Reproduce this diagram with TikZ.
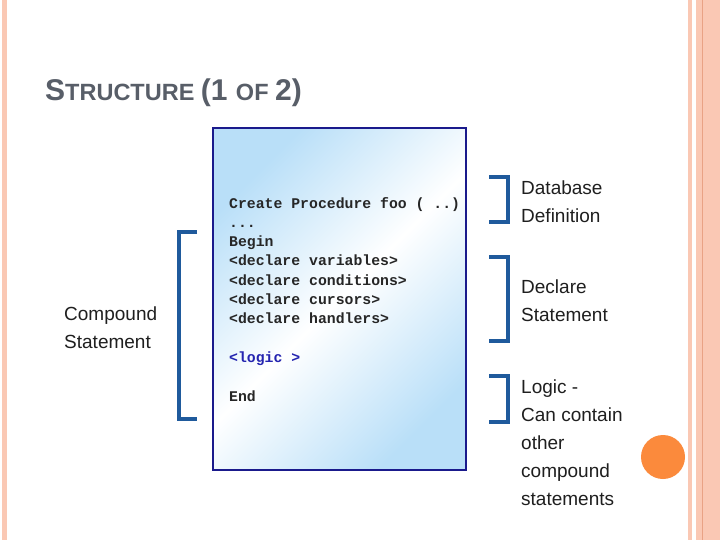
\documentclass[tikz,border=0pt]{standalone}
\usepackage{fontspec}
\setmainfont{Liberation Sans}
\setmonofont{Liberation Mono}
\definecolor{stripe}{HTML}{FAC8B4}
\definecolor{stripedark}{HTML}{E9A285}
\definecolor{titlegray}{HTML}{585E68}
\definecolor{boxblue}{HTML}{1A1A8C}
\definecolor{fillblue}{HTML}{B9DFF8}
\definecolor{brackblue}{HTML}{1F5A9C}
\definecolor{logicblue}{HTML}{2424B0}
\definecolor{dotorange}{HTML}{FB8A3C}
\tikzset{
  codeline/.style={anchor=base west, inner sep=0pt, font=\fontsize{14.8}{17}\selectfont\ttfamily\bfseries, text=black!85},
  label/.style={anchor=base west, inner sep=0pt, font=\fontsize{19}{22}\selectfont, text=black!88},
  brack/.style={draw=brackblue, line width=4pt, line cap=butt, line join=miter},
}
\begin{document}
\begin{tikzpicture}[x=1pt,y=-1pt]
\useasboundingbox (0,0) rectangle (720,540);
\fill[white] (0,0) rectangle (720,540);
% side stripes
\fill[stripe] (2,0) rectangle (7,540);
\fill[stripe] (688,0) rectangle (692,540);
\fill[stripe] (696,0) rectangle (720,540);
\fill[stripedark] (701.5,0) rectangle (703,540);
% orange dot
\fill[dotorange] (663,457) circle (22);
% title
\node[anchor=base west, inner sep=0pt, text=titlegray, font=\bfseries] (title) at (45,101)
  {\fontsize{30}{34}\selectfont S\fontsize{23.5}{34}\selectfont TRUCTURE \fontsize{30}{34}\selectfont(1 \fontsize{23.5}{34}\selectfont OF \fontsize{30}{34}\selectfont 2)};
% code box
\shade[top color=fillblue, bottom color=fillblue, middle color=white, shading angle=45] (213,128) rectangle (466,470);
\draw[boxblue, line width=2pt] (213,128) rectangle (466,470);
\node[codeline] (c1) at (229,208) {Create Procedure foo ( ..)};
\node[codeline] (c2) at (229,227.3) {...};
\node[codeline] (c3) at (229,246.6) {Begin};
\node[codeline] (c4) at (229,265.9) {<declare variables>};
\node[codeline] (c5) at (229,285.2) {<declare conditions>};
\node[codeline] (c6) at (229,304.5) {<declare cursors>};
\node[codeline] (c7) at (229,323.8) {<declare handlers>};
\node[codeline, text=logicblue] (c8) at (229,362.4) {<logic >};
\node[codeline] (c9) at (229,401) {End};
% left bracket
\draw[brack] (197,232) -- (179,232) -- (179,419) -- (197,419);
\node[label] (l1) at (64,320) {Compound};
\node[label] (l2) at (64,348) {Statement};
% right brackets
\draw[brack] (489,177) -- (508,177) -- (508,222) -- (489,222);
\draw[brack] (489,257) -- (508,257) -- (508,341) -- (489,341);
\draw[brack] (489,376) -- (508,376) -- (508,422) -- (489,422);
\node[label] (r1) at (521,195) {Database};
\node[label] (r2) at (521,222.7) {Definition};
\node[label] (r3) at (521,293.3) {Declare};
\node[label] (r4) at (521,321.5) {Statement};
\node[label] (r5) at (521,393.3) {Logic -};
\node[label] (r6) at (521,421.3) {Can contain};
\node[label] (r7) at (521,449.2) {other};
\node[label] (r8) at (521,477) {compound};
\node[label] (r9) at (521,505) {statements};
\end{tikzpicture}
\end{document}
